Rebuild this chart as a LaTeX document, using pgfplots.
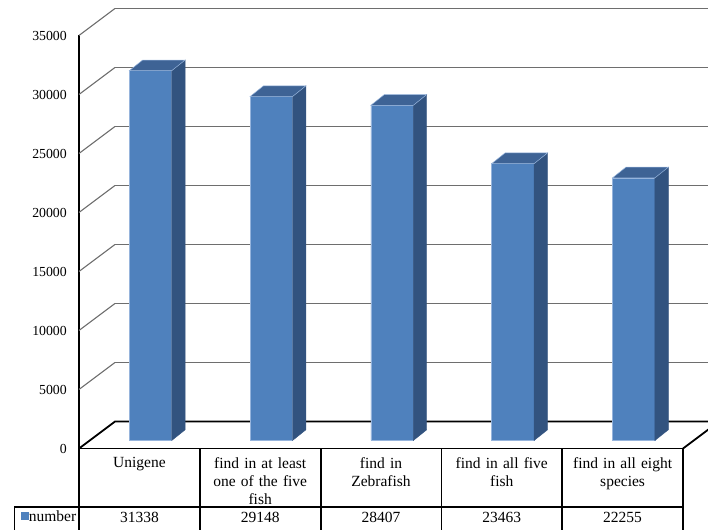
\documentclass[border=0pt]{standalone}
\usepackage{pgfplots}
\pgfplotsset{compat=1.18}
\usepackage{pgfplotstable}
\usepackage{fontspec}
\setmainfont{Liberation Serif}

\definecolor{barfront}{RGB}{79,129,189}
\definecolor{barside}{RGB}{50,83,127}
\definecolor{bartop}{RGB}{62,99,149}
\definecolor{barrim}{RGB}{150,180,220}
\definecolor{gridgray}{RGB}{110,110,110}

\pgfplotstableread{
x value
0 31338
1 29148
2 28407
3 23463
4 22255
}\counts

% an invisible mark: the column faces are drawn by the scatter code
\pgfdeclareplotmark{none3d}{}

% column geometry (front face width, depth offset) and vertical scale
\def\barw{42.4pt}
\def\depx{13.4pt}
\def\depy{10.7pt}
\def\ptperunit{0.0118} % 413pt for 35000

\pgfplotsset{
  chartplane/.style={
    scale only axis, width=604pt, height=413pt,
    xmin=-0.5, xmax=4.5, ymin=0, ymax=35000,
    scaled y ticks=false,
    anchor=south west,
  },
}

\begin{document}
\begin{tikzpicture}[x=1pt,y=1pt]
\useasboundingbox (0,0) rectangle (708,529);
\clip (0,0) rectangle (708,529);

% back wall with its horizontal gridlines
\begin{axis}[chartplane, at={(115pt,107.5pt)},
  axis line style={draw=none}, tick style={draw=none},
  xtick=\empty, ytick={5000,10000,...,35000}, yticklabels={},
  ymajorgrids, grid style={gridgray, line width=1.1pt}]
\addplot[draw=none] coordinates {(0,0)};
\end{axis}

% front plane: value axis, side wall, floor and data table
\begin{axis}[chartplane, at={(79pt,80.5pt)}, clip=false,
  axis lines*=left,
  axis line style={black, line width=1.8pt},
  major tick length=0pt,
  ytick={0,5000,...,35000},
  /pgf/number format/1000 sep={},
  /pgf/number format/assume math mode=true,
  yticklabel style={font=\fontsize{13.8}{16}\selectfont, anchor=east, inner sep=0pt, xshift=-12pt},
  xtick={0,1,2,3,4},
  xticklabels={Unigene, {find in at least\\one of the five\\fish}, {find in\\Zebrafish}, {find in all five\\fish}, {find in all eight\\species}},
  xticklabel style={font=\fontsize{15.5}{18}\selectfont, align=center, text width=118pt, anchor=north, inner sep=0pt, yshift=-8.5pt},
]
% side-wall gridlines
\pgfplotsinvokeforeach{5000,10000,15000,20000,25000,30000,35000}{
  \draw[gridgray, line width=1.1pt] (axis cs:-0.5,#1) -- ++(36pt,27pt);
}
% floor
\draw[black, line width=1.8pt] (axis cs:-0.5,0) -- ++(36pt,27pt) -- ++(604pt,0pt);
\draw[black, line width=1.8pt] (axis cs:4.5,0) -- ++(36pt,27pt);
% data table grid
\pgfplotsinvokeforeach{-0.5,0.5,1.5,2.5,3.5,4.5}{
  \draw[black, line width=1.8pt] (axis cs:#1,0) -- ++(0pt,-110pt);
}
\draw[black, line width=1.8pt] ([shift={(-64.5pt,-58.8pt)}]axis cs:-0.5,0) -- ([yshift=-58.8pt]axis cs:4.5,0);
\draw[black, line width=1.8pt] ([shift={(-64.5pt,-58.8pt)}]axis cs:-0.5,0) -- ++(0pt,-60pt);
% values in the table row
\addplot[draw=none, mark=none, point meta=explicit,
  nodes near coords,
  nodes near coords style={anchor=base, yshift=-74.2pt, font=\fontsize{15.5}{18}\selectfont}]
  table[x=x, y expr=0, meta=value] {\counts};
\end{axis}

% columns, set back from the front plane
\begin{axis}[chartplane, at={(90.1pt,88.5pt)}, hide axis, clip=false,
  legend style={at={(-0.1144,-0.184)}, anchor=west, draw=none, fill=none,
    inner sep=0pt, font=\fontsize{15.5}{18}\selectfont,
    nodes={inner sep=0pt}, /tikz/every even column/.append style={column sep=4pt}},
  legend image code/.code={\fill[barfront] (0pt,-3.0pt) rectangle (7.2pt,4.2pt);},
]
\addplot[ybar, bar width=\barw, fill=barfront, draw=barrim, line width=0.5pt]
  table[x=x, y=value] {\counts};
\addlegendentry{number}
\addplot[forget plot, scatter, only marks, mark=none3d,
  visualization depends on={rawy \as \rawy},
  scatter/@pre marker code/.code={%
    \pgfkeys{/pgf/fpu=true, /pgf/fpu/output format=fixed}%
    \pgfmathsetmacro\colh{\rawy*\ptperunit}%
    \pgfkeys{/pgf/fpu=false}%
    \fill[barside] (\barw/2,0pt) -- ++(\depx,\depy) -- ++(0pt,-\colh pt) -- ++(-\depx,-\depy) -- cycle;
    \filldraw[bartop, draw=barrim, line width=0.5pt] (-\barw/2,0pt) -- (\barw/2,0pt) -- ++(\depx,\depy) -- ++(-\barw,0pt) -- cycle;
  },
  scatter/@post marker code/.code={}]
  table[x=x, y=value] {\counts};
\end{axis}
\end{tikzpicture}
\end{document}
